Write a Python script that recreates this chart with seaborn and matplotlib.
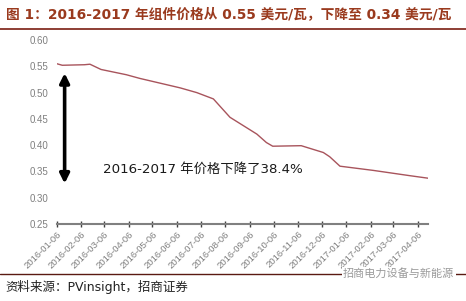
import matplotlib
matplotlib.use("Agg")
import matplotlib.pyplot as plt
import seaborn as sns
import pandas as pd

dates = ["2016-01-06", "2016-01-13", "2016-02-10", "2016-02-17", "2016-03-02",
         "2016-04-03", "2016-04-20", "2016-06-10", "2016-07-01", "2016-07-22",
         "2016-08-12", "2016-09-15", "2016-09-27", "2016-10-05", "2016-11-10",
         "2016-12-08", "2016-12-16", "2016-12-29", "2017-02-09", "2017-03-27",
         "2017-04-20"]
prices = [0.555, 0.552, 0.553, 0.554, 0.544,
          0.534, 0.527, 0.509, 0.500, 0.488,
          0.453, 0.421, 0.405, 0.398, 0.399,
          0.386, 0.378, 0.360, 0.352, 0.342,
          0.337]
tick_dates = ["2016-01-06", "2016-02-06", "2016-03-06", "2016-04-06", "2016-05-06",
              "2016-06-06", "2016-07-06", "2016-08-06", "2016-09-06", "2016-10-06",
              "2016-11-06", "2016-12-06", "2017-01-06", "2017-02-06", "2017-03-06",
              "2017-04-06"]
y_ticks = [0.25, 0.30, 0.35, 0.40, 0.45, 0.50, 0.55, 0.60]

title = "图 1：2016-2017 年组件价格从 0.55 美元/瓦，下降至 0.34 美元/瓦"
note = "2016-2017 年价格下降了38.4%"
source = "资料来源：PVinsight，招商证券"
watermark = "招商电力设备与新能源"

sns.set_theme(style="white")
plt.rcParams["font.family"] = ["Noto Sans CJK SC", "DejaVu Sans"]
latin_first = ["DejaVu Sans", "Noto Sans CJK SC"]

df = pd.DataFrame({"date": pd.to_datetime(dates), "price": prices})

fig = plt.figure(figsize=(4.66, 3.01), dpi=100)
ax = fig.add_axes([0.1217, 0.2558, 0.918 - 0.1217, 0.867 - 0.2558])

sns.lineplot(data=df, x="date", y="price", ax=ax, color="#A8545C", linewidth=1.0)

ax.set_xlim(pd.Timestamp("2016-01-06"), pd.Timestamp("2017-04-19"))
ax.set_ylim(0.25, 0.60)
ax.set_yticks(y_ticks)
ax.set_yticklabels([f"{v:.2f}" for v in y_ticks], color="#7F7F7F", fontsize=7,
                   family=["Liberation Sans", "DejaVu Sans"])
tks = pd.to_datetime(tick_dates)
ax.set_xticks(tks)
ax.set_xticklabels(tick_dates, rotation=45, ha="right", rotation_mode="anchor",
                   color="#7F7F7F", fontsize=6.8, family=["Liberation Sans", "DejaVu Sans"])
ax.set_xlabel("")
ax.set_ylabel("")
for s in ["left", "right", "top"]:
    ax.spines[s].set_visible(False)
ax.spines["bottom"].set_color("#808080")
ax.spines["bottom"].set_linewidth(1.5)
ax.tick_params(axis="x", direction="inout", length=4, width=1, color="#404040", pad=2, bottom=True)
ax.tick_params(axis="y", length=0, pad=6)
ax.grid(False)

# double-headed arrow
ax.annotate("", xy=(pd.Timestamp("2016-01-16"), 0.327),
            xytext=(pd.Timestamp("2016-01-16"), 0.537),
            arrowprops=dict(arrowstyle="<|-|>", color="black", lw=2.6,
                            mutation_scale=14, shrinkA=0, shrinkB=0))
ax.text(pd.Timestamp("2016-03-04"), 0.354, note, fontsize=9.6, color="#1a1a1a",
        va="center", ha="left", family=latin_first)

# header
fig.text(0.012, 0.953, title, fontsize=9.9, fontweight="bold", color="#9A3A1E",
         va="center", ha="left", family=latin_first)
fig.add_artist(plt.Line2D([0, 1], [0.905, 0.905], color="#7A1E12", lw=1.2,
                          transform=fig.transFigure))
# footer
fig.add_artist(plt.Line2D([0, 1], [0.09, 0.09], color="#5A1A12", lw=1.0,
                          transform=fig.transFigure))
fig.text(0.012, 0.045, source, fontsize=9, color="#222222", va="center", ha="left",
         family=latin_first)
fig.text(0.975, 0.09, watermark, fontsize=8, color="#9A9A9A", va="center", ha="right",
         bbox=dict(facecolor="white", edgecolor="none", pad=1.0))

fig.savefig("out.png", dpi=100)
